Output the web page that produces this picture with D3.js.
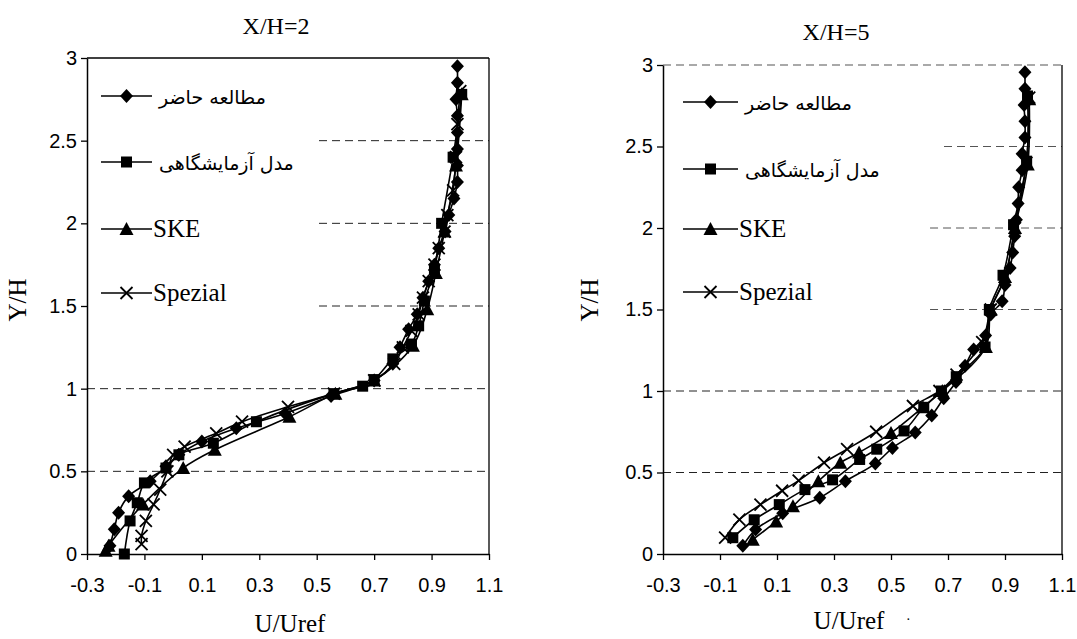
<!DOCTYPE html>
<html>
<head>
<meta charset="utf-8">
<script src="https://cdn.jsdelivr.net/npm/d3@7"></script>
<style>
  body { margin: 0; background: #fff; }
</style>
</head>
<body>
<div id="chart"></div>
<script>
var svgWidth = 1077;
var svgHeight = 639;

// tick values shared by both panels
var xTicks = [-0.3, -0.1, 0.1, 0.3, 0.5, 0.7, 0.9, 1.1];
var yTicks = [0, 0.5, 1, 1.5, 2, 2.5, 3];
var seriesNames = ["مطالعه حاضر", "مدل آزمایشگاهی", "SKE", "Spezial"];

// X/H=2 profiles, [U/Uref, Y/H]
var present2 = [[-0.22,0.05],[-0.205,0.15],[-0.19,0.25],[-0.155,0.35],[-0.08,0.44],[-0.025,0.53],[0.02,0.6],[0.1,0.68],[0.22,0.76],[0.39,0.85],[0.55,0.955],[0.70,1.05],[0.765,1.15],[0.79,1.25],[0.82,1.36],[0.85,1.45],[0.87,1.55],[0.89,1.65],[0.91,1.75],[0.925,1.85],[0.947,1.95],[0.96,2.05],[0.978,2.15],[0.99,2.25],[0.99,2.35],[0.99,2.45],[0.99,2.55],[0.99,2.65],[0.985,2.75],[0.99,2.85],[0.99,2.95]];
var exp2 = [[-0.17,0.0],[-0.15,0.2],[-0.125,0.31],[-0.10,0.43],[-0.025,0.52],[0.02,0.6],[0.14,0.67],[0.29,0.8],[0.56,0.97],[0.66,1.015],[0.70,1.055],[0.765,1.18],[0.83,1.27],[0.855,1.38],[0.875,1.53],[0.91,1.72],[0.935,2.0],[0.975,2.4],[1.005,2.78]];
var ske2 = [[-0.235,0.02],[-0.225,0.05],[-0.105,0.30],[0.035,0.52],[0.145,0.63],[0.405,0.83],[0.565,0.97],[0.70,1.05],[0.835,1.26],[0.885,1.48],[0.915,1.70],[0.945,1.95],[0.985,2.35],[1.005,2.78]];
var spez2 = [[-0.11,0.06],[-0.11,0.11],[-0.095,0.2],[-0.068,0.3],[-0.045,0.39],[-0.02,0.5],[0.0,0.6],[0.04,0.65],[0.15,0.73],[0.24,0.8],[0.40,0.89],[0.56,0.97],[0.70,1.05],[0.77,1.15],[0.80,1.25],[0.83,1.35],[0.855,1.45],[0.87,1.55],[0.89,1.65],[0.91,1.75],[0.925,1.85],[0.945,1.95],[0.955,2.05],[0.975,2.2],[0.985,2.4],[0.99,2.6],[1.0,2.8]];

// X/H=5 profiles
var present5 = [[-0.02,0.05],[0.025,0.15],[0.12,0.25],[0.25,0.345],[0.34,0.447],[0.445,0.555],[0.505,0.65],[0.585,0.745],[0.643,0.85],[0.685,0.955],[0.728,1.055],[0.76,1.155],[0.79,1.255],[0.832,1.34],[0.85,1.47],[0.89,1.55],[0.9,1.65],[0.918,1.755],[0.927,1.85],[0.934,1.95],[0.94,2.05],[0.946,2.15],[0.948,2.25],[0.96,2.355],[0.96,2.455],[0.97,2.555],[0.97,2.655],[0.967,2.755],[0.97,2.855],[0.97,2.955]];
var exp5 = [[-0.055,0.1],[0.02,0.21],[0.108,0.303],[0.198,0.395],[0.295,0.455],[0.39,0.58],[0.45,0.643],[0.546,0.755],[0.615,0.9],[0.677,1.0],[0.729,1.088],[0.83,1.27],[0.845,1.5],[0.893,1.71],[0.93,2.02],[0.976,2.41],[0.979,2.81]];
var ske5 = [[0.015,0.088],[0.097,0.2],[0.156,0.293],[0.245,0.447],[0.322,0.56],[0.388,0.623],[0.5,0.742],[0.612,0.9],[0.68,1.0],[0.833,1.27],[0.85,1.5],[0.9,1.7],[0.935,2.0],[0.98,2.39],[0.985,2.79]];
var spez5 = [[-0.082,0.1],[-0.032,0.211],[0.042,0.303],[0.118,0.388],[0.176,0.45],[0.265,0.56],[0.346,0.643],[0.448,0.75],[0.577,0.908],[0.67,1.0],[0.73,1.1],[0.82,1.3],[0.85,1.5],[0.9,1.7],[0.935,2.0],[0.975,2.4],[0.985,2.8]];

// panel layout (pixels)
var panels = [
  { title: "X/H=2", series: [present2, exp2, ske2, spez2],
    left: 87, right: 489, top: 58, bottom: 554,
    titleX: 276, titleY: 34, xlabX: 290, xlabY: 632, ylabX: 26, ylabY: 300,
    legX: 101, legLen: 51, legRows: [96, 162, 229, 293],
    topDashed: false, gridStart: { "2.5": 0.508, "2": 0.508, "1.5": 0.508 } },
  { title: "X/H=5", series: [present5, exp5, ske5, spez5],
    left: 663, right: 1062, top: 65, bottom: 554,
    titleX: 836, titleY: 40, xlabX: 849, xlabY: 629, ylabX: 598, ylabY: 300,
    legX: 683, legLen: 55, legRows: [102, 169, 229, 292],
    topDashed: true, gridStart: { "2.5": 0.686, "2": 0.637, "1.5": 0.637 } }
];

var serif = "'Liberation Serif', 'Times New Roman', 'DejaVu Serif', serif";
var sans = "'Liberation Sans', Arial, sans-serif";

var svg = d3.select("#chart")
  .append("svg")
  .attr("width", svgWidth)
  .attr("height", svgHeight);

// marker shapes
function marker(g, kind) {
  if (kind === 0) {
    g.append("path").attr("d", "M0,-7L6.5,0L0,7L-6.5,0Z").attr("fill", "#000");
  } else if (kind === 1) {
    g.append("rect").attr("x", -5.5).attr("y", -5.5).attr("width", 11).attr("height", 11).attr("fill", "#000");
  } else if (kind === 2) {
    g.append("path").attr("d", "M0,-7L7,6L-7,6Z").attr("fill", "#000");
  } else {
    g.append("path").attr("d", "M-6,-6L6,6M-6,6L6,-6").attr("stroke", "#000").attr("stroke-width", 1.8).attr("fill", "none");
  }
}

// plain hyphen for negatives, like the original
function fmtX(d) { return d3.format(".1f")(d).replace("\u2212", "-"); }

panels.forEach(function (p) {
  var x = d3.scaleLinear().domain([-0.3, 1.1]).range([p.left, p.right]);
  var y = d3.scaleLinear().domain([0, 3]).range([p.bottom, p.top]);
  var g = svg.append("g");

  // dashed gridlines
  yTicks.filter(function (t) { return t > 0 && t < 3; }).forEach(function (t) {
    var from = p.gridStart[String(t)] !== undefined ? p.gridStart[String(t)] : -0.3;
    g.append("line")
      .attr("x1", x(from)).attr("x2", x(1.1))
      .attr("y1", y(t)).attr("y2", y(t))
      .attr("stroke", t >= 1.5 && p.topDashed ? "#555" : "#222")
      .attr("stroke-width", 1)
      .attr("stroke-dasharray", "8,5");
  });

  // frame: right border, top border
  g.append("line")
    .attr("x1", x(1.1)).attr("x2", x(1.1))
    .attr("y1", y(0)).attr("y2", y(3))
    .attr("stroke", "#000").attr("stroke-width", 1.3);
  g.append("line")
    .attr("x1", x(-0.3)).attr("x2", x(1.1))
    .attr("y1", y(3)).attr("y2", y(3))
    .attr("stroke", p.topDashed ? "#555" : "#000")
    .attr("stroke-width", p.topDashed ? 1.2 : 1.3)
    .attr("stroke-dasharray", p.topDashed ? "8,5" : null);

  // axes
  var xAxis = g.append("g")
    .attr("transform", "translate(0," + y(0) + ")")
    .call(d3.axisBottom(x).tickValues(xTicks).tickSize(6).tickSizeOuter(0).tickFormat(fmtX));
  var yAxis = g.append("g")
    .attr("transform", "translate(" + x(-0.3) + ",0)")
    .call(d3.axisLeft(y).tickValues(yTicks).tickSize(6).tickSizeOuter(0).tickFormat(function (d) { return String(d); }));

  [xAxis, yAxis].forEach(function (a) {
    a.select(".domain").attr("stroke", "#000").attr("stroke-width", 1.5);
    a.selectAll(".tick line").attr("stroke", "#000").attr("stroke-width", 1.3);
    a.selectAll(".tick text")
      .attr("fill", "#000")
      .style("font-family", sans)
      .style("font-size", "20px");
  });
  xAxis.selectAll(".tick text").attr("dy", "1.45em");
  yAxis.selectAll(".tick text").attr("x", -10);

  // series lines + markers
  var line = d3.line()
    .x(function (d) { return x(d[0]); })
    .y(function (d) { return y(d[1]); })
    .curve(d3.curveCatmullRom.alpha(0.5));

  p.series.forEach(function (s) {
    g.append("path")
      .datum(s)
      .attr("d", line)
      .attr("fill", "none")
      .attr("stroke", "#000")
      .attr("stroke-width", 1.6);
  });
  p.series.forEach(function (s, i) {
    g.selectAll(null)
      .data(s)
      .enter()
      .append("g")
      .attr("transform", function (d) { return "translate(" + x(d[0]) + "," + y(d[1]) + ")"; })
      .each(function () { marker(d3.select(this), i); });
  });

  // legend
  seriesNames.forEach(function (name, i) {
    var ly = p.legRows[i];
    g.append("line")
      .attr("x1", p.legX).attr("x2", p.legX + p.legLen)
      .attr("y1", ly).attr("y2", ly)
      .attr("stroke", "#000").attr("stroke-width", 1.5);
    var m = g.append("g").attr("transform", "translate(" + (p.legX + p.legLen / 2) + "," + ly + ")");
    marker(m, i);
    g.append("text")
      .attr("x", p.legX + p.legLen + (i < 2 ? 7 : 1))
      .attr("y", ly + 8)
      .attr("fill", "#000")
      .style("font-family", i < 2 ? "'DejaVu Sans', " + serif : serif)
      .style("font-size", i < 2 ? "19px" : "25px")
      .text(name);
  });

  // titles and axis labels
  g.append("text")
    .attr("x", p.titleX).attr("y", p.titleY)
    .attr("text-anchor", "middle")
    .attr("fill", "#000")
    .style("font-family", serif).style("font-size", "24px")
    .text(p.title);
  g.append("text")
    .attr("x", p.xlabX).attr("y", p.xlabY)
    .attr("text-anchor", "middle")
    .attr("fill", "#000")
    .style("font-family", serif).style("font-size", "25px")
    .text("U/Uref");
  g.append("text")
    .attr("transform", "translate(" + p.ylabX + "," + p.ylabY + ") rotate(-90)")
    .attr("text-anchor", "middle")
    .attr("fill", "#000")
    .style("font-family", serif).style("font-size", "25px")
    .text("Y/H");
});

// stray mark next to the right x label
svg.append("text")
  .attr("x", 906).attr("y", 624)
  .attr("fill", "#000")
  .style("font-family", serif).style("font-size", "14px")
  .text("·");
</script>
</body>
</html>
